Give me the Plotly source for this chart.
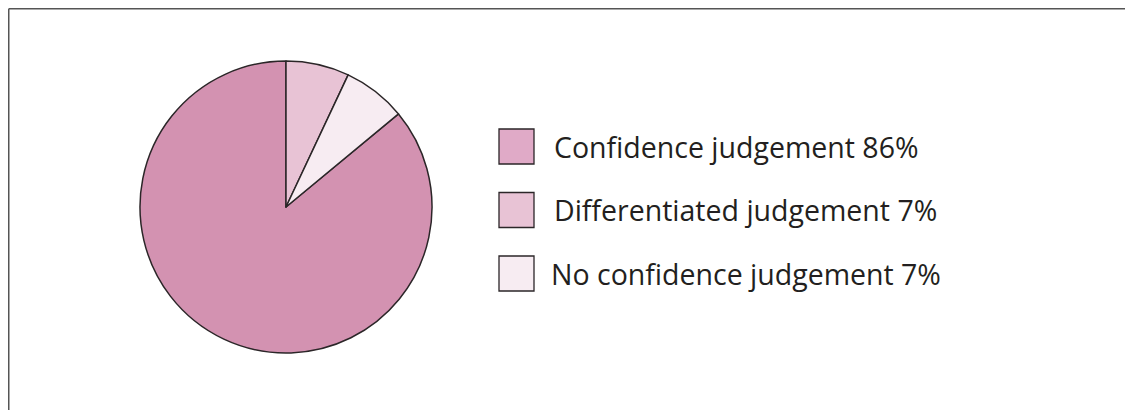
import plotly.graph_objects as go

labels = ["Confidence judgement", "Differentiated judgement", "No confidence judgement"]
values = [86, 7, 7]
pie_colors = ["#D392B1", "#E8C3D5", "#F7ECF2"]
legend_colors = ["#E0AAC7", "#E8C3D5", "#F7ECF2"]

W, H = 1133, 410
OFF = 8  # page offset of the plot area


def px(x):
    return (x - OFF) / W


def py(y):
    return 1 - (y - OFF) / H


fig = go.Figure()
fig.add_trace(go.Pie(
    labels=labels,
    values=values,
    sort=False,
    direction="clockwise",
    rotation=360 * (values[1] + values[2]) / sum(values),
    marker=dict(colors=pie_colors, line=dict(color="#2b2628", width=1.5)),
    textinfo="none",
    hoverinfo="label+percent",
    showlegend=False,
    domain=dict(x=[px(140), px(432)], y=[py(353), py(61)]),
))

shapes = [
    dict(type="line", xref="paper", yref="paper", x0=0.7 / W, x1=1.0, y0=1 - 0.7 / H, y1=1 - 0.7 / H,
         line=dict(color="#555555", width=1.6)),
    dict(type="line", xref="paper", yref="paper", x0=0.7 / W, x1=0.7 / W, y0=0, y1=1 - 0.7 / H,
         line=dict(color="#555555", width=1.6)),
]
annotations = []
sw_x0, sw_size, sw_top0, pitch = 499, 35, 129, 63.5
for i, (lab, val) in enumerate(zip(labels, values)):
    top = sw_top0 + i * pitch
    shapes.append(dict(type="rect", xref="paper", yref="paper",
                       x0=px(sw_x0), x1=px(sw_x0 + sw_size),
                       y0=py(top + sw_size), y1=py(top),
                       fillcolor=legend_colors[i], line=dict(color="#2b2628", width=1.3)))
    annotations.append(dict(xref="paper", yref="paper", x=px(552 if i < 2 else 549),
                            y=py(top + sw_size / 2), xanchor="left", yanchor="middle",
                            text=f"{lab} {val}%", showarrow=False,
                            font=dict(family="Open Sans", size=28.5, color="#231F20")))

fig.update_layout(
    width=W, height=H,
    margin=dict(l=0, r=0, t=0, b=0),
    paper_bgcolor="white", plot_bgcolor="white",
    shapes=shapes, annotations=annotations,
)
fig.write_html("out.html")
